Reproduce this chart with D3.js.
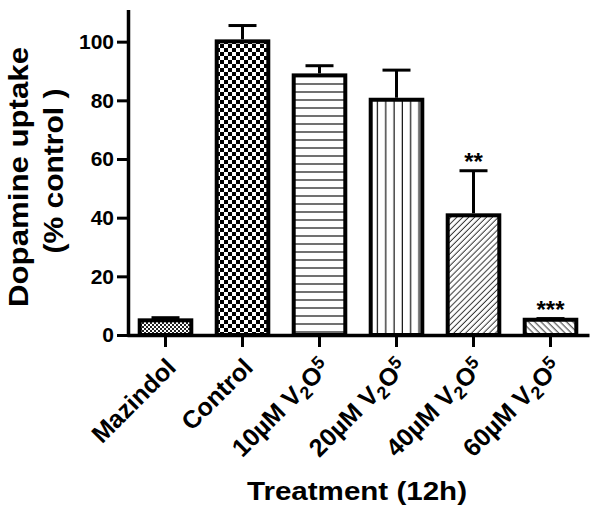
<!DOCTYPE html>
<html><head><meta charset="utf-8">
<script src="https://cdn.jsdelivr.net/npm/d3@7"></script>
<style>body{margin:0;background:#fff}svg{display:block}text{font-family:"Liberation Sans",Arial,sans-serif;font-weight:bold}</style>
</head><body>
<svg id="c" width="600" height="515"></svg>
<script>
const categories = ["Mazindol","Control","10µM V2O5","20µM V2O5","40µM V2O5","60µM V2O5"];
const values = [5.0, 100.1, 88.5, 80.2, 40.8, 5.2];
const errors = [0.9, 5.4, 3.3, 10.1, 15.2, 0.4];
const significance = ["", "", "", "", "**", "***"];
const patterns = ["fineChecker","checker","hLines","vLines","diagUp","diagDown"];
const yTicks = [0, 20, 40, 60, 80, 100];
const yTitle = ["Dopamine uptake", "(% control )"];
const xTitle = "Treatment (12h)";

const svg = d3.select("#c");
const defs = svg.append("defs");
// patterns
let p = defs.append("pattern").attr("id","fineChecker").attr("patternUnits","userSpaceOnUse").attr("width",4).attr("height",4);
p.append("rect").attr("width",4).attr("height",4).attr("fill","#fff");
p.append("rect").attr("width",2).attr("height",2).attr("fill","#222");
p.append("rect").attr("x",2).attr("y",2).attr("width",2).attr("height",2).attr("fill","#222");
p = defs.append("pattern").attr("id","checker").attr("patternUnits","userSpaceOnUse").attr("width",8).attr("height",8);
p.append("rect").attr("width",8).attr("height",8).attr("fill","#fff");
p.append("rect").attr("width",4).attr("height",4).attr("fill","#000");
p.append("rect").attr("x",4).attr("y",4).attr("width",4).attr("height",4).attr("fill","#000");
p = defs.append("pattern").attr("id","hLines").attr("patternUnits","userSpaceOnUse").attr("width",8).attr("height",8);
p.append("rect").attr("width",8).attr("height",8).attr("fill","#fff");
p.append("line").attr("x1",0).attr("x2",8).attr("y1",4).attr("y2",4).attr("stroke","#111").attr("stroke-width",1.2);
p = defs.append("pattern").attr("id","vLines").attr("patternUnits","userSpaceOnUse").attr("width",8.3).attr("height",8);
p.append("rect").attr("width",8.3).attr("height",8).attr("fill","#fff");
p.append("line").attr("y1",0).attr("y2",8).attr("x1",4).attr("x2",4).attr("stroke","#111").attr("stroke-width",1.2);
p = defs.append("pattern").attr("id","diagUp").attr("patternUnits","userSpaceOnUse").attr("width",4.2).attr("height",6).attr("patternTransform","rotate(45)");
p.append("rect").attr("width",4.2).attr("height",6).attr("fill","#fff");
p.append("line").attr("y1",0).attr("y2",6).attr("x1",2).attr("x2",2).attr("stroke","#333").attr("stroke-width",1);
p = defs.append("pattern").attr("id","diagDown").attr("patternUnits","userSpaceOnUse").attr("width",4.5).attr("height",6).attr("patternTransform","rotate(-45)");
p.append("rect").attr("width",4.5).attr("height",6).attr("fill","#fff");
p.append("line").attr("y1",0).attr("y2",6).attr("x1",2).attr("x2",2).attr("stroke","#333").attr("stroke-width",1);

const x = d3.scaleBand().domain(categories).range([127, 589]).paddingInner(0.33).paddingOuter(0.165);
const y = d3.scaleLinear().domain([0, 111]).range([335, 9.4]);

// bars
svg.append("g").selectAll("rect").data(categories).join("rect")
  .attr("x", d => x(d)).attr("width", x.bandwidth())
  .attr("y", (d,i) => y(values[i])).attr("height", (d,i) => y(0) - y(values[i]))
  .attr("fill", (d,i) => `url(#${patterns[i]})`)
  .attr("stroke", "#000").attr("stroke-width", 4);

// error bars
const eg = svg.append("g").attr("stroke","#000").attr("stroke-width",3);
categories.forEach((d,i) => {
  const cx = x(d) + x.bandwidth()/2;
  eg.append("line").attr("x1",cx).attr("x2",cx).attr("y1",y(values[i])-2).attr("y2",y(values[i]+errors[i]));
  eg.append("line").attr("x1",cx-14).attr("x2",cx+14).attr("y1",y(values[i]+errors[i])).attr("y2",y(values[i]+errors[i]));
});

// significance
svg.append("g").selectAll("text").data(significance).join("text")
  .attr("x", (d,i) => x(categories[i]) + x.bandwidth()/2)
  .attr("y", (d,i) => y(values[i]+errors[i]) - 1)
  .attr("text-anchor","middle").attr("font-size",24).text(d => d);

// y axis
const ya = svg.append("g").attr("transform","translate(128,0)")
  .call(d3.axisLeft(y).tickValues(yTicks).tickSize(11).tickSizeOuter(0).tickPadding(3));
ya.select(".domain").attr("stroke","#000").attr("stroke-width",3.5);
ya.selectAll(".tick line").attr("stroke","#000").attr("stroke-width",3);
ya.selectAll(".tick text").attr("font-size",21).attr("font-family","Liberation Sans, Arial, sans-serif").attr("font-weight","bold").attr("fill","#000");

// x axis
const xa = svg.append("g").attr("transform","translate(0,335)")
  .call(d3.axisBottom(x).tickSize(12).tickSizeOuter(0).tickFormat(""));
xa.select(".domain").attr("stroke","#000").attr("stroke-width",3.5);
xa.selectAll(".tick line").attr("stroke","#000").attr("stroke-width",3);

// x labels (rotated, with subscripts)
const lab = svg.append("g").selectAll("text").data(categories).join("text")
  .attr("text-anchor","end").attr("font-size",25)
  .attr("transform", d => `translate(${x(d)+x.bandwidth()/2+12},${369}) rotate(-45)`);
lab.each(function(d){
  const t = d3.select(this);
  const m = d.match(/^(.*V)(\d)(O)(\d)$/);
  if (!m) { t.text(d); return; }
  t.append("tspan").text(m[1]);
  t.append("tspan").attr("font-size",18).attr("dy",5).text(m[2]);
  t.append("tspan").attr("dy",-5).text(m[3]);
  t.append("tspan").attr("font-size",18).attr("dy",-8).text(m[4]);
});

// titles
svg.append("text").attr("x",357).attr("y",500).attr("text-anchor","middle")
  .attr("font-size",26).attr("textLength",220).attr("lengthAdjust","spacingAndGlyphs").text(xTitle);
svg.append("text").attr("transform","translate(28,177) rotate(-90)").attr("text-anchor","middle")
  .attr("font-size",28).attr("textLength",260).attr("lengthAdjust","spacingAndGlyphs").text(yTitle[0]);
svg.append("text").attr("transform","translate(63,171) rotate(-90)").attr("text-anchor","middle")
  .attr("font-size",28).attr("textLength",165).attr("lengthAdjust","spacingAndGlyphs").text(yTitle[1]);
</script>
</body></html>
